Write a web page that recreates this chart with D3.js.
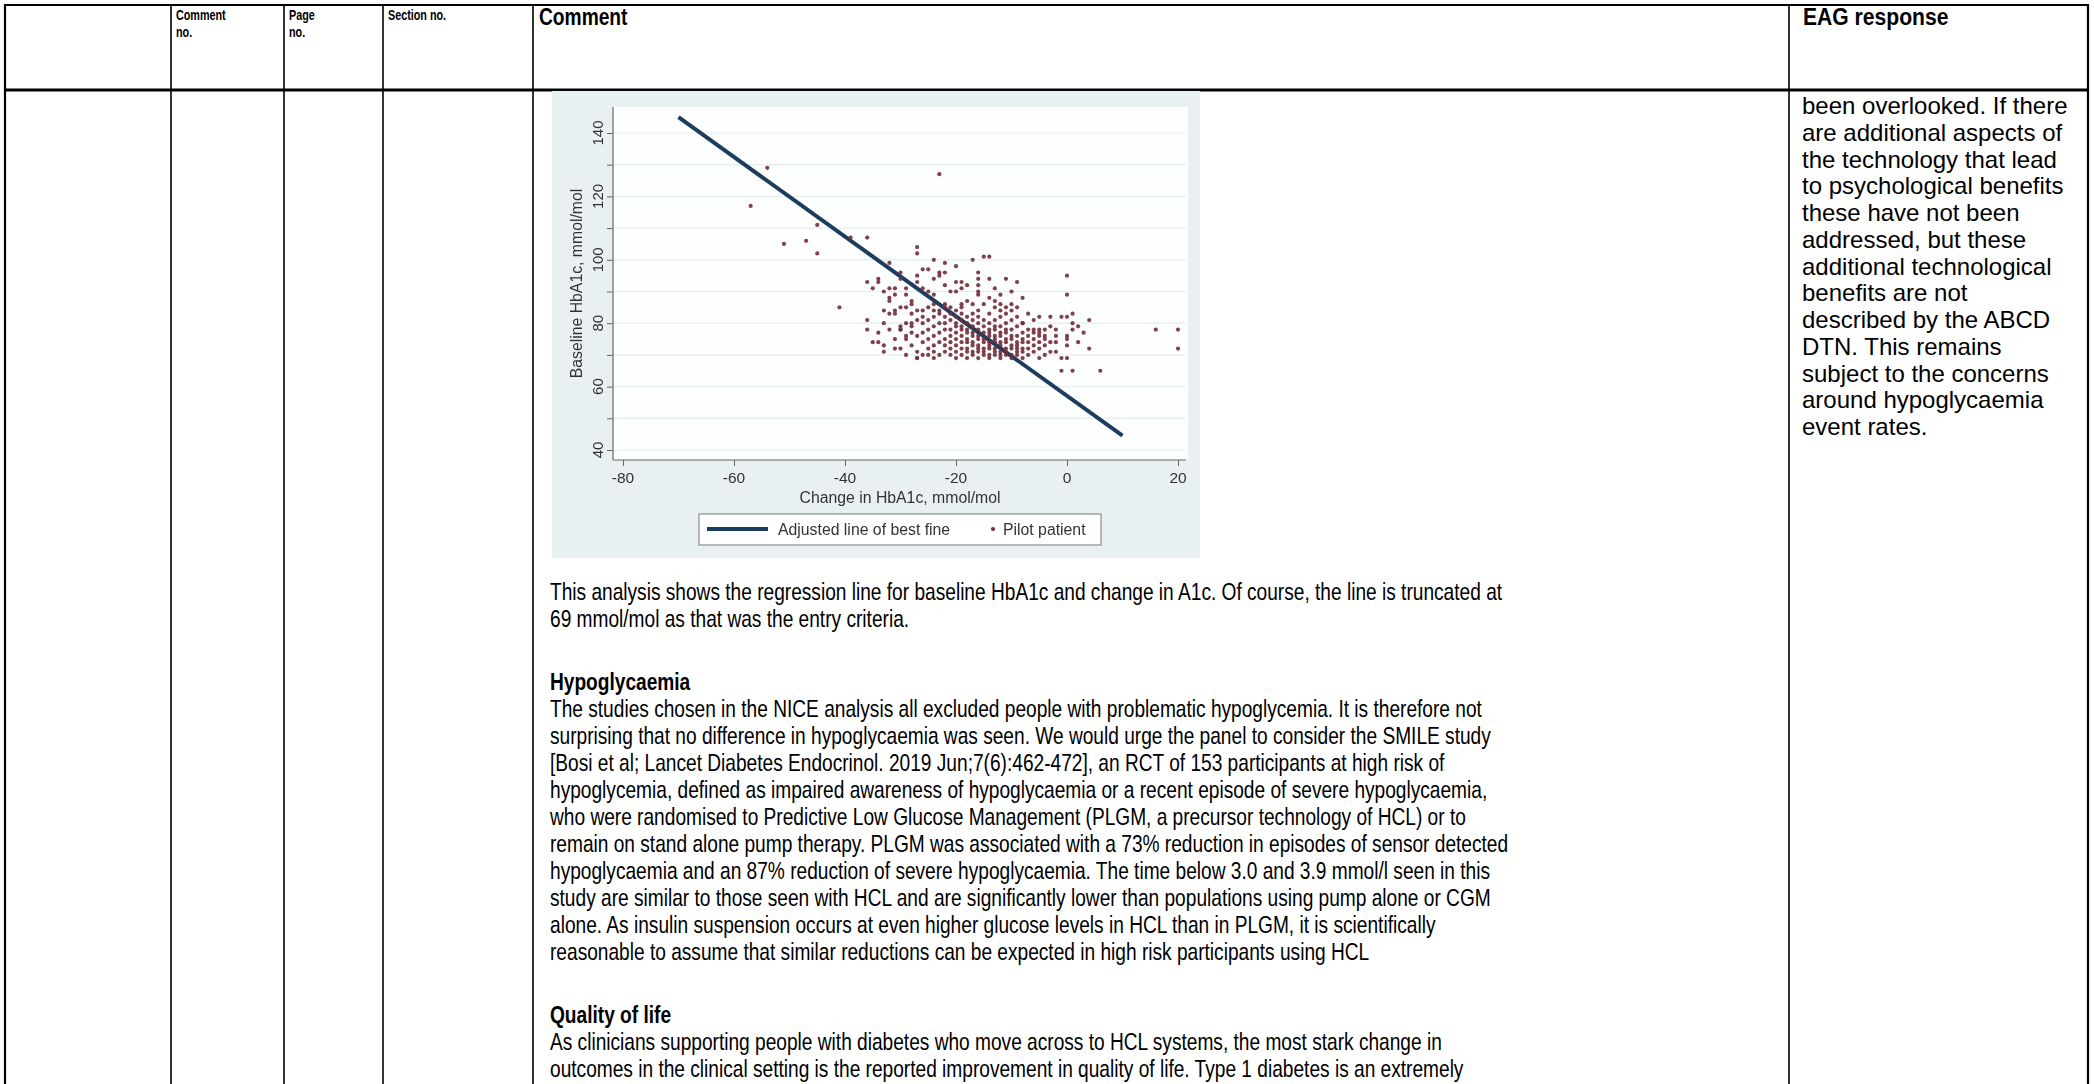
<!DOCTYPE html>
<html><head><meta charset="utf-8">
<script src="https://cdn.jsdelivr.net/npm/d3@7"></script>
<style>html,body{margin:0;padding:0;background:#fff;overflow:hidden}</style>
</head><body>
<svg id="page" width="2094" height="1084"></svg>
<script>
// ---------- DATA ----------
const headerSmall = [["Comment","no."],["Page","no."],["Section no."]];
const headerBig = ["Comment","EAG response"];

const xTicks = [-80,-60,-40,-20,0,20];
const yTickLabels = [40,60,80,100,120,140];
const yGridValues = [40,50,60,70,80,90,100,110,120,130,140];
const xTitle = "Change in HbA1c, mmol/mol";
const yTitle = "Baseline HbA1c, mmol/mol";
const legendLabels = ["Adjusted line of best fine","Pilot patient"];

const fitLineX = [-70, 10];
const fitLineY = [145, 44.5];

const pilotScattered = [
 [-57,117],[-54,129],[-51,105],[-47,106],[-45,111],[-45,102],[-39,107],[-36,107],[-23,127],[-36,93],[-35,91],[-34,94],[-41,85],[-36,81],[-36,78],
 [-27,104],[-27,102],[-32,99],[-24,100],[-22,99],[-20,98],[-17,100],[-15,101],[-14,101],[-26,97],[-25,97],[-30,96],[-27,95],[-23,96],[-22,96],[-24,94],[-23,95],[-16,96],[-16,94],[-16,92],[-34,93],[-27,93],[-20,93],[-19,93],[-14,94],[-33,90],[-31,91],[-29,91],[-29,89],[-26,91],[-25,90],[-24,89],[-21,90],[-20,90],[-19,91],[-16,90],[-16,89],[-14,88],[-11,94],[-9,93],[0,95],[0,89],[-32,91],[-30,94],[-31,89],[-13,91],[-12,89],[-18,92],[-22,92],[-10,90],[-8,88],
 [-32,88],[-32,87],[-30,85],[-29,85],[-28,86],[-28,87],[-33,84],[-32,83],[-31,84],[-31,83],[-27,84],[-26,84],[-10,86],[-10,84],[-11,85],[-12,84],[-11,83],[-9,82],[-8,80],[-5,82],[-3,82],[-1,82],[0,82],[1,83],[4,81],[2,79],[1,78],[-13,87],[-12,86],[-15,86],[-18,87],[-19,86],[-21,85],[-22,86],[-23,84],[-24,86],[-25,85],[-13,85],[-9,85],[-7,83],[-6,81],
 [-30,79],[-30,78],[-29,76],[-28,80],[-28,79],[-27,69],[-25,70],[-24,69],[-33,80],[-34,77],[-32,78],[-31,75],[-33,73],[-35,74],[-34,74],[-33,71],[-31,72],
 [16,78],[20,78],[20,72],[4,72],[0,76],[0,75],[0,73],[-2,78],[-2,76],[-2,74],[-2,71],[-1,69],[0,69],[-1,65],[1,65],[6,65],[-5,78],[-4,78],[-5,76],[-4,75],[-7,78],[-6,77],[-8,74],[-9,72],[1,80],[3,77],[2,74]
];
const pilotColumns = [
 [-30,[72,78]],[-29,[70,75,80]],[-28,[73,77,83]],[-27,[69,71,76,81]],
 [-26,[70,74,77,80,82]],[-25,[72,75,78,81]],[-24,[71,73,76,79,82,84]],[-23,[70,74,77,80,83]],
 [-22,[71,73,75,78,80,82,85]],[-21,[70,72,74,76,78,81,83]],[-20,[69,71,73,75,77,79,80,82,84]],
 [-19,[70,72,74,76,78,79,81,83,85]],[-18,[69,71,72,74,75,77,78,80,82]],[-17,[70,71,73,74,76,77,79,81,83,86]],
 [-16,[69,71,72,73,75,76,78,80,82,84]],[-15,[70,71,72,74,75,77,79,81]],[-14,[69,70,72,73,74,76,77,78,80,83]],
 [-13,[70,71,72,74,75,76,78,79,81]],[-12,[69,70,71,73,74,76,77,79,82]],[-11,[70,71,72,74,75,77,78,80]],
 [-10,[69,70,72,73,75,76,78,81]],[-9,[70,71,73,74,76,79]],[-8,[69,71,72,75,77,80]],[-7,[70,72,74,76]],
 [-6,[71,73,75,78]],[-5,[69,72,74,77]],[-4,[70,73,76]],[-3,[71,74,79]]
];

const para1Lines = [
 "This analysis shows the regression line for baseline HbA1c and change in A1c. Of course, the line is truncated at",
 "69 mmol/mol as that was the entry criteria."
];
const hypoHeading = "Hypoglycaemia";
const hypoLines = [
 "The studies chosen in the NICE analysis all excluded people with problematic hypoglycemia. It is therefore not",
 "surprising that no difference in hypoglycaemia was seen. We would urge the panel to consider the SMILE study",
 "[Bosi et al; Lancet Diabetes Endocrinol. 2019 Jun;7(6):462-472], an RCT of 153 participants at high risk of",
 "hypoglycemia, defined as impaired awareness of hypoglycaemia or a recent episode of severe hypoglycaemia,",
 "who were randomised to Predictive Low Glucose Management (PLGM, a precursor technology of HCL) or to",
 "remain on stand alone pump therapy. PLGM was associated with a 73% reduction in episodes of sensor detected",
 "hypoglycaemia and an 87% reduction of severe hypoglycaemia. The time below 3.0 and 3.9 mmol/l seen in this",
 "study are similar to those seen with HCL and are significantly lower than populations using pump alone or CGM",
 "alone. As insulin suspension occurs at even higher glucose levels in HCL than in PLGM, it is scientifically",
 "reasonable to assume that similar reductions can be expected in high risk participants using HCL"
];
const qolHeading = "Quality of life";
const qolLines = [
 "As clinicians supporting people with diabetes who move across to HCL systems, the most stark change in",
 "outcomes in the clinical setting is the reported improvement in quality of life. Type 1 diabetes is an extremely"
];
const eagLines = [
 "been overlooked. If there","are additional aspects of","the technology that lead","to psychological benefits",
 "these have not been","addressed, but these","additional technological","benefits are not",
 "described by the ABCD","DTN. This remains","subject to the concerns","around hypoglycaemia","event rates."
];

// ---------- DRAW ----------
const FONT = "'Liberation Sans', Arial, Helvetica, sans-serif";
const svg = d3.select("#page");
svg.append("rect").attr("width",2094).attr("height",1084).attr("fill","#fff");

// table lines
const colX = [5, 171, 284, 383, 533, 1789, 2088];
const tbl = svg.append("g").attr("stroke","#000");
colX.forEach((x,i)=>{
  tbl.append("line").attr("x1",x).attr("x2",x).attr("y1",4).attr("y2",1084)
    .attr("stroke-width",(i===0||i===colX.length-1)?2.2:1.6);
});
tbl.append("line").attr("x1",4).attr("x2",2089).attr("y1",5).attr("y2",5).attr("stroke-width",2.2);
tbl.append("line").attr("x1",4).attr("x2",2089).attr("y1",90).attr("y2",90).attr("stroke-width",3.2);

// header texts
const smallX = [176, 289, 388];
headerSmall.forEach((lines,i)=>{
  lines.forEach((t,j)=>{
    svg.append("text").attr("transform",`translate(${smallX[i]},${20+j*16.5}) scale(0.72,1)`)
      .attr("font-family",FONT).attr("font-weight","bold").attr("font-size",15).attr("fill","#000").text(t);
  });
});
svg.append("text").attr("transform","translate(539,25) scale(0.8,1)")
  .attr("font-family",FONT).attr("font-weight","bold").attr("font-size",24).attr("fill","#000").text(headerBig[0]);
svg.append("text").attr("transform","translate(1803,25) scale(0.88,1)")
  .attr("font-family",FONT).attr("font-weight","bold").attr("font-size",24).attr("fill","#000").text(headerBig[1]);

// comment body text (condensed)
function cText(t, y, bold){
  svg.append("text").attr("transform",`translate(550,${y}) scale(0.797,1)`)
    .attr("font-family",FONT).attr("font-size",24).attr("fill","#000")
    .attr("font-weight",bold?"bold":"normal").text(t);
}
para1Lines.forEach((t,i)=>cText(t, 600+27*i));
cText(hypoHeading, 690, true);
hypoLines.forEach((t,i)=>cText(t, 717+27*i));
cText(qolHeading, 1023, true);
qolLines.forEach((t,i)=>cText(t, 1050+27*i));

// EAG text
eagLines.forEach((t,i)=>{
  svg.append("text").attr("x",1802).attr("y",114+26.76*i)
    .attr("font-family",FONT).attr("font-size",24).attr("fill","#000").text(t);
});

// ---------- CHART ----------
const defs = svg.append("defs");
defs.append("filter").attr("id","soft").append("feGaussianBlur").attr("stdDeviation",0.45);
const chart = svg.append("g").attr("filter","url(#soft)");
chart.append("rect").attr("x",552).attr("y",91).attr("width",648).attr("height",467).attr("fill","#e9f0f2");
chart.append("rect").attr("x",613).attr("y",107).attr("width",575).attr("height",353).attr("fill","#fdfefe");

const x = d3.scaleLinear().domain([-80,20]).range([623,1178]);
const y = d3.scaleLinear().domain([40,140]).range([450,133]);

// gridlines
chart.append("g").selectAll("line").data(yGridValues).join("line")
  .attr("x1",614).attr("x2",1186).attr("y1",d=>y(d)).attr("y2",d=>y(d))
  .attr("stroke","#e4ecef").attr("stroke-width",1.2);

// axes
const yAxis = d3.axisLeft(y).tickValues(yGridValues).tickSize(6).tickFormat("");
const gy = chart.append("g").attr("transform","translate(613,0)").call(yAxis);
gy.select(".domain").remove();
gy.selectAll(".tick line").attr("stroke","#666");
chart.append("line").attr("x1",613).attr("x2",613).attr("y1",107).attr("y2",460).attr("stroke","#666").attr("stroke-width",1.2);
yTickLabels.forEach(v=>{
  chart.append("text").attr("transform",`translate(602.5,${y(v)}) rotate(-90)`)
    .attr("text-anchor","middle").attr("font-family",FONT).attr("font-size",15).attr("fill","#333").text(v);
});

const xAxis = d3.axisBottom(x).tickValues(xTicks).tickSize(6).tickFormat("");
const gx = chart.append("g").attr("transform","translate(0,460)").call(xAxis);
gx.select(".domain").remove();
gx.selectAll(".tick line").attr("stroke","#666");
chart.append("line").attr("x1",613).attr("x2",1186).attr("y1",460).attr("y2",460).attr("stroke","#666").attr("stroke-width",1.2);
xTicks.forEach(v=>{
  chart.append("text").attr("x",x(v)).attr("y",482.5).attr("text-anchor","middle")
    .attr("font-family",FONT).attr("font-size",15.5).attr("fill","#333").text(v<0?"-"+Math.abs(v):v);
});

// titles
chart.append("text").attr("x",900).attr("y",503).attr("text-anchor","middle")
  .attr("font-family",FONT).attr("font-size",15.8).attr("fill","#333").text(xTitle);
chart.append("text").attr("transform","translate(581.5,283.5) rotate(-90)").attr("text-anchor","middle")
  .attr("font-family",FONT).attr("font-size",15.8).attr("fill","#333").text(yTitle);

// fit line
const lineData = fitLineX.map((d,i)=>[d, fitLineY[i]]);
chart.append("path").datum(lineData)
  .attr("d", d3.line().x(d=>x(d[0])).y(d=>y(d[1])))
  .attr("fill","none").attr("stroke","#1f3e5e").attr("stroke-width",4);

// points
const pts = pilotScattered.concat(pilotColumns.flatMap(([cx,ys])=>ys.map(v=>[cx,v])));
chart.append("g").selectAll("circle").data(pts).join("circle")
  .attr("cx",d=>x(d[0])).attr("cy",d=>y(d[1])).attr("r",2.1)
  .attr("fill","#722c3b").attr("fill-opacity",0.9);

// legend
chart.append("rect").attr("x",699).attr("y",514).attr("width",402).attr("height",31)
  .attr("fill","#fff").attr("stroke","#777").attr("stroke-width",1);
chart.append("line").attr("x1",707).attr("x2",768).attr("y1",529).attr("y2",529)
  .attr("stroke","#1f3e5e").attr("stroke-width",4);
chart.append("text").attr("x",778).attr("y",535).attr("font-family",FONT).attr("font-size",15.8).attr("fill","#333").text(legendLabels[0]);
chart.append("circle").attr("cx",993).attr("cy",529).attr("r",2.1).attr("fill","#722c3b");
chart.append("text").attr("x",1003).attr("y",535).attr("font-family",FONT).attr("font-size",15.8).attr("fill","#333").text(legendLabels[1]);
</script>
</body></html>
